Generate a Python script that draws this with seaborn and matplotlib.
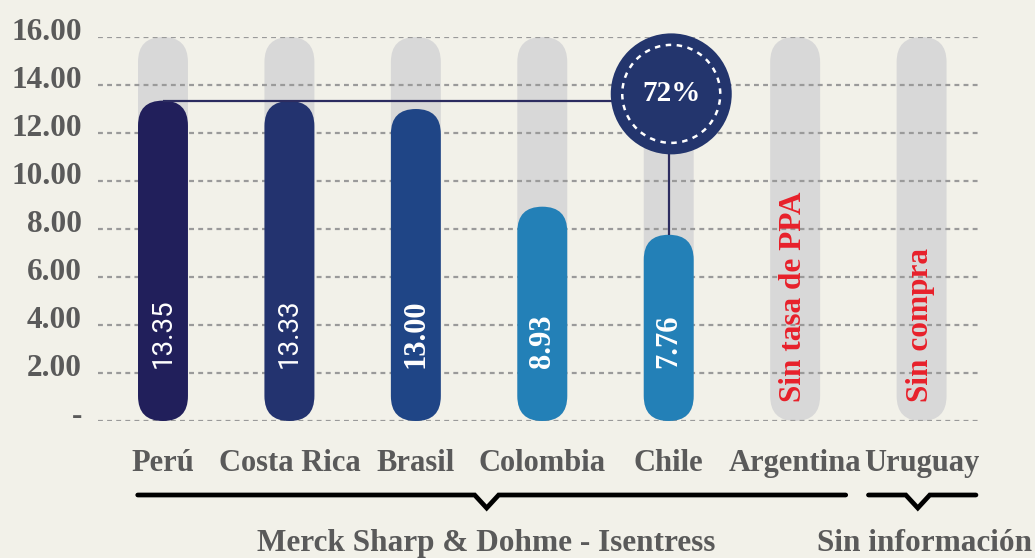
import numpy as np
import pandas as pd
import matplotlib
matplotlib.use("Agg")
import matplotlib.pyplot as plt
import seaborn as sns
from matplotlib.patches import FancyBboxPatch, Ellipse
from matplotlib.transforms import ScaledTranslation

# ---------------- data ----------------
categories = ["Perú", "Costa Rica", "Brasil", "Colombia", "Chile", "Argentina", "Uruguay"]
price_countries = ["Perú", "Costa Rica", "Brasil", "Colombia", "Chile"]
price_values = [13.35, 13.33, 13.00, 8.93, 7.76]
value_labels = ["13.35", "13.33", "13.00", "8.93", "7.76"]
no_data_countries = ["Argentina", "Uruguay"]
no_data_labels = ["Sin tasa de PPA", "Sin compra"]
scale_max = 16
yticks = [0, 2, 4, 6, 8, 10, 12, 14, 16]
ytick_labels = ["-", "2.00", "4.00", "6.00", "8.00", "10.00", "12.00", "14.00", "16.00"]
diff_label = "72%"
diff_from, diff_to = "Perú", "Chile"
group_names = ["Merck Sharp & Dohme - Isentress", "Sin información"]
group_members = [["Perú", "Costa Rica", "Brasil", "Colombia", "Chile", "Argentina"], ["Uruguay"]]

# ---------------- style ----------------
BG = "#f2f1e9"
GRAY = "#d8d8d8"
bar_colors = {"Perú": "#211f5b", "Costa Rica": "#23336f", "Brasil": "#1f4586",
              "Colombia": "#2380b7", "Chile": "#2380b7"}
label_fonts = {"Perú": "Roboto", "Costa Rica": "Roboto", "Brasil": "Liberation Serif",
               "Colombia": "Liberation Serif", "Chile": "Liberation Serif"}
TEXT = "#5a5a5a"
NAVY = "#2c2c60"
RED = "#e8202a"
SERIF = ["Liberation Serif", "DejaVu Serif"]

sns.set_theme(style="white")
plt.rcParams["font.family"] = SERIF

W, H = 1035, 558
fig = plt.figure(figsize=(W / 100, H / 100), dpi=100)
fig.patch.set_facecolor(BG)
ax_l, ax_r, ax_b, ax_t = 98, 980, 137, 521
ax = fig.add_axes([ax_l / W, ax_b / H, (ax_r - ax_l) / W, (ax_t - ax_b) / H])
ax.set_facecolor(BG)

bar_w = 0.395
bg_df = pd.DataFrame({"country": categories, "value": [scale_max] * len(categories)})
df = pd.DataFrame({"country": price_countries, "value": price_values})

sns.barplot(data=bg_df, x="country", y="value", order=categories, color=GRAY,
            width=bar_w, ax=ax, zorder=1, saturation=1, errorbar=None)
sns.barplot(data=df, x="country", y="value", order=categories, hue="country",
            palette=bar_colors, legend=False, width=bar_w, ax=ax, zorder=3,
            saturation=1, errorbar=None)

xlim = (-0.514, 6.462)
ax.set_xlim(*xlim)
ax.set_ylim(0, scale_max)

# convert rectangles to pills
px_x = (ax_r - ax_l) / (xlim[1] - xlim[0])
px_y = (ax_t - ax_b) / scale_max
aspect = px_x / px_y
rects = list(ax.patches)
for r in rects:
    x, y, w, h = r.get_x(), r.get_y(), r.get_width(), r.get_height()
    if not np.isfinite(h) or h == 0:
        r.remove()
        continue
    pill = FancyBboxPatch((x, y), w, h,
                          boxstyle=f"round,pad=0,rounding_size={w / 2}",
                          mutation_aspect=aspect, facecolor=r.get_facecolor(),
                          edgecolor="none", zorder=r.get_zorder(), clip_on=False)
    r.remove()
    ax.add_patch(pill)

# grid
ax.set_axisbelow("line")
ax.set_yticks(yticks)
ax.set_yticklabels(ytick_labels)
ax.yaxis.grid(True, color="#9a9a9a", linewidth=1.6, linestyle=(0, (2.2, 1.9)))
ax.xaxis.grid(False)
for s in ax.spines.values():
    s.set_visible(False)
ax.tick_params(axis="y", length=0, pad=11.5, labelsize=22.5, labelcolor=TEXT)
ax.tick_params(axis="x", length=0, pad=20.5, labelsize=22, labelcolor=TEXT)
for lab in ax.get_yticklabels():
    lab.set_fontweight("bold")
    lab.set_transform(lab.get_transform() + ScaledTranslation(0, 0.085, fig.dpi_scale_trans))
for lab in ax.get_xticklabels():
    lab.set_fontweight("bold")
ax.set_xlabel("")
ax.set_ylabel("")

# value labels inside bars
for c, v, t in zip(price_countries, price_values, value_labels):
    xi = categories.index(c)
    roboto = label_fonts[c] == "Roboto"
    ax.text(xi, 2.2, t, rotation=90, ha="center", va="bottom", color="white",
            fontsize=20 if roboto else 22, fontweight="normal" if roboto else "bold",
            family=[label_fonts[c], "DejaVu Sans"], zorder=6)

for c, t in zip(no_data_countries, no_data_labels):
    xi = categories.index(c)
    ax.text(xi - 0.01, 0.79, t, rotation=90, ha="center", va="bottom", color=RED,
            fontsize=22.5, fontweight="bold", zorder=6)

# difference connector
i0, i1 = categories.index(diff_from), categories.index(diff_to)
v0 = price_values[price_countries.index(diff_from)]
v1 = price_values[price_countries.index(diff_to)]
ax.plot([i0, i1], [v0, v0], color=NAVY, lw=1.6, zorder=4, solid_capstyle="butt")
ax.plot([i1, i1], [v1, v0], color=NAVY, lw=1.6, zorder=4, solid_capstyle="butt")
cx, cy = i1 + 0.02, v0 + 0.28
ax.scatter([cx], [cy], s=(121 * 0.72) ** 2, color="#23356d", zorder=5,
           edgecolors="none", clip_on=False)
ax.add_patch(Ellipse((cx, cy), 98 / px_x, 98 / px_y, facecolor="none",
                     edgecolor="white", lw=1.8, linestyle=(0, (2.2, 2.2)), zorder=6,
                     clip_on=False))
ax.text(cx, cy, diff_label, ha="center", va="center", color="white",
        fontsize=21, fontweight="bold", zorder=7)

# group brackets
yb = -74 / px_y
depth = 13 / px_y
half = 12 / px_x
spans = [(-0.2, 5.4), (5.58, 6.43)]
mids = [2.56, 5.97]
for name, (a, b), mid in zip(group_names, spans, mids):
    ax.plot([a, mid - half, mid, mid + half, b], [yb, yb, yb - depth, yb, yb],
            color="black", lw=3.4, solid_capstyle="round", solid_joinstyle="miter",
            clip_on=False, zorder=5)
    ax.text(mid + (0.05 if mid > 5 else 0), -130 / px_y, name, ha="center",
            va="baseline", color=TEXT, fontsize=22.5, fontweight="bold")

fig.savefig("out.png", dpi=100, facecolor=BG)
